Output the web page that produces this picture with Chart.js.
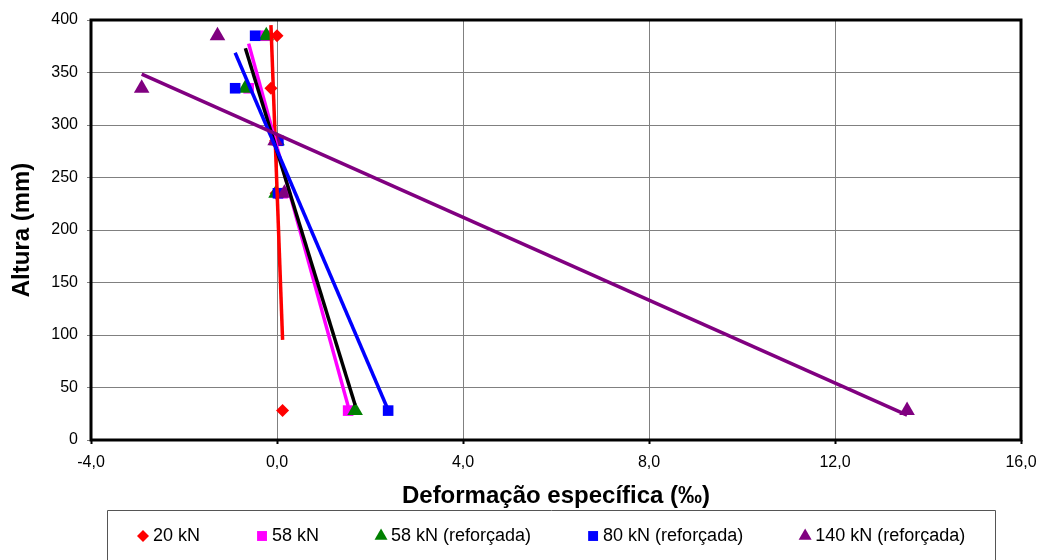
<!DOCTYPE html>
<html lang="pt">
<head>
  <meta charset="UTF-8" />
  <title>Deformação específica x Altura</title>
  <script src="https://cdn.jsdelivr.net/npm/chart.js"></script>
  <style>
    body { margin: 0; background: white; }
    canvas { display: block; }
  </style>
</head>
<body>
  <canvas id="grafico" width="1037" height="560"></canvas>

  <script>
    // alturas dos extensômetros (mm)
    const alturas = [385, 335, 285, 235, 28];

    // deformação específica (‰) por carga
    const def20 = [0.0, -0.13, -0.03, -0.02, 0.12];
    const def58 = [-0.25, -0.61, 0.0, 0.12, 1.53];
    const def58r = [-0.23, -0.68, 0.0, -0.02, 1.68];
    const def80r = [-0.47, -0.90, 0.03, 0.02, 2.39];
    const def140r = [-1.28, -2.91, -0.04, 0.16, 13.55];

    const series = [
      { nome: "20 kN", dados: def20, cor: "#FF0000", linha: "#FF0000", marca: "rectRot", raio: 6.5 },
      { nome: "58 kN", dados: def58, cor: "#FF00FF", linha: "#FF00FF", marca: "rect", raio: 7.5 },
      { nome: "58 kN (reforçada)", dados: def58r, cor: "#008000", linha: "#000000", marca: "triangle", raio: 9 },
      { nome: "80 kN (reforçada)", dados: def80r, cor: "#0000FF", linha: "#0000FF", marca: "rect", raio: 7.5 },
      { nome: "140 kN (reforçada)", dados: def140r, cor: "#800080", linha: "#800080", marca: "triangle", raio: 9 }
    ];

    // linha de tendência linear (altura em função da deformação)
    function tendencia(xs, ys) {
      const n = xs.length;
      const mx = xs.reduce((a, b) => a + b, 0) / n;
      const my = ys.reduce((a, b) => a + b, 0) / n;
      let sxy = 0, sxx = 0;
      for (let i = 0; i < n; i++) {
        sxy += (xs[i] - mx) * (ys[i] - my);
        sxx += (xs[i] - mx) * (xs[i] - mx);
      }
      const b = sxy / sxx;
      const a = my - b * mx;
      const x0 = Math.min(...xs), x1 = Math.max(...xs);
      return [{ x: x0, y: a + b * x0 }, { x: x1, y: a + b * x1 }];
    }

    const datasets = [];
    series.forEach((s, i) => {
      datasets.push({
        label: s.nome,
        marcador: true,
        data: s.dados.map((v, k) => ({ x: v, y: alturas[k] })),
        showLine: false,
        pointStyle: s.marca,
        pointRadius: s.raio,
        backgroundColor: s.cor,
        borderColor: s.cor,
        borderWidth: 0,
        order: 10 - i
      });
      datasets.push({
        label: s.nome + " (tendência)",
        data: tendencia(s.dados, alturas),
        showLine: true,
        pointRadius: 0,
        borderColor: s.linha,
        borderWidth: 3.5,
        order: 5 - i
      });
    });

    // moldura preta da área do gráfico
    const moldura = {
      id: "moldura",
      afterDraw(chart) {
        const { ctx, chartArea: a } = chart;
        ctx.save();
        ctx.strokeStyle = "#000";
        ctx.lineWidth = 3;
        ctx.strokeRect(a.left, a.top, a.right - a.left, a.bottom - a.top);
        ctx.restore();
      }
    };

    // legenda em caixa, abaixo do título do eixo x
    const legenda = {
      id: "legenda",
      afterDraw(chart) {
        const ctx = chart.ctx;
        ctx.save();
        ctx.strokeStyle = "#555";
        ctx.lineWidth = 1;
        ctx.beginPath();
        ctx.moveTo(107.5, 570);
        ctx.lineTo(107.5, 510.5);
        ctx.lineTo(995.5, 510.5);
        ctx.lineTo(995.5, 570);
        ctx.stroke();

        ctx.font = '18px "Liberation Sans", Arial, sans-serif';
        ctx.textBaseline = "middle";
        ctx.fillStyle = "#000";
        let x = 143;
        const y = 536;
        chart.data.datasets.forEach(ds => {
          if (!ds.marcador) return;
          ctx.fillStyle = ds.backgroundColor;
          ctx.strokeStyle = ds.backgroundColor;
          ctx.lineWidth = 0;
          const r = ds.pointStyle === "triangle" ? 7.5 : ds.pointRadius - 0.5;
          Chart.helpers.drawPoint(ctx, { pointStyle: ds.pointStyle, radius: r, borderWidth: 0 }, x, y);
          ctx.fillStyle = "#000";
          ctx.fillText(ds.label, x + 10, y);
          x += 10 + ctx.measureText(ds.label).width + 62;
        });
        ctx.restore();
      }
    };

    const fonte = '"Liberation Sans", Arial, sans-serif';

    new Chart(document.getElementById("grafico"), {
      type: "scatter",
      data: { datasets: datasets },
      options: {
        responsive: false,
        animation: false,
        layout: { padding: { left: 0, top: 20, right: 16, bottom: 0 } },
        plugins: {
          legend: { display: false },
          tooltip: { enabled: false }
        },
        scales: {
          x: {
            min: -4,
            max: 16,
            afterFit: s => {
              s.height = 120;
              s.paddingLeft = 0;
              s.paddingRight = 0;
            },
            ticks: {
              stepSize: 4,
              color: "#000",
              padding: 9,
              font: { family: fonte, size: 16 },
              callback: v => v.toFixed(1).replace(".", ",")
            },
            grid: { color: "#808080", lineWidth: 1, tickLength: 4, tickColor: "#000", tickWidth: 2 },
            border: { display: false },
            title: {
              display: true,
              text: "Deformação específica (‰)",
              color: "#000",
              font: { family: fonte, size: 24, weight: "bold" },
              padding: { top: 4, bottom: 49 }
            }
          },
          y: {
            min: 0,
            max: 400,
            afterFit: s => { s.width = 91; },
            ticks: {
              stepSize: 50,
              color: "#000",
              padding: 9,
              font: { family: fonte, size: 16 }
            },
            grid: { color: "#808080", lineWidth: 1, tickLength: 4 },
            border: { display: false },
            title: {
              display: true,
              text: "Altura (mm)",
              color: "#000",
              font: { family: fonte, size: 24, weight: "bold" },
              padding: { top: 8, bottom: 0 }
            }
          }
        }
      },
      plugins: [moldura, legenda]
    });
  </script>
</body>
</html>
